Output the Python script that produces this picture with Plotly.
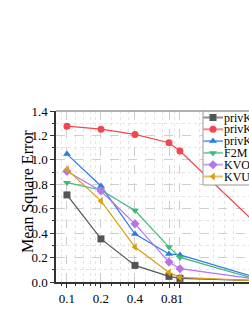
import plotly.graph_objects as go

eps = [0.1, 0.2, 0.4, 0.8, 1, 5]
names = ["privKV", "privKVM", "privKVM*", "F2M", "KVOH", "KVUE"]
priv_kv = [0.713, 0.353, 0.136, 0.046, 0.030, 0.010]
priv_kvm = [1.276, 1.251, 1.208, 1.140, 1.072, 0.455]
priv_kvm_star = [1.047, 0.786, 0.392, 0.230, 0.222, 0.030]
f2m = [0.813, 0.753, 0.585, 0.286, 0.201, 0.016]
kvoh = [0.906, 0.745, 0.476, 0.163, 0.109, 0.021]
kvue = [0.922, 0.664, 0.286, 0.078, 0.038, 0.010]
series = [priv_kv, priv_kvm, priv_kvm_star, f2m, kvoh, kvue]
colors = ["#555555", "#f2474f", "#2b7de0", "#3fb979", "#b673ea", "#d9a00c"]
symbols = ["square", "circle", "triangle-up", "triangle-down", "diamond", "triangle-left"]
xtick_vals = [0.1, 0.2, 0.4, 0.8, 1]
xtick_text = ["0.1", "0.2", "0.4", "0.8", "1"]
xminor_vals = [0.09, 0.12, 0.14, 0.16, 0.18, 0.25, 0.3, 0.35, 0.5, 0.6, 0.7, 0.9, 1.5, 2, 2.5, 3]

FONT = "Liberation Serif"
fig = go.Figure()
for name, vals, c, s in zip(names, series, colors, symbols):
    fig.add_trace(go.Scatter(x=eps, y=vals, name=name, mode="lines+markers",
                             line=dict(color=c, width=1.2),
                             marker=dict(symbol=s, size=7, color=c),
                             showlegend=False))

# manual legend on an overlay axis measured in screen pixels
L, R, T, B = 56, 249, 111, 282
fig.add_trace(go.Scatter(x=[203, 265, 265, 203, 203], y=[109, 109, 185, 185, 109],
                         xaxis="x2", yaxis="y2", mode="lines", fill="toself",
                         fillcolor="white", line=dict(color="#999999", width=1),
                         showlegend=False, hoverinfo="skip"))
for i, (name, c, s) in enumerate(zip(names, colors, symbols)):
    yy = 117.5 + 11.8 * i
    fig.add_trace(go.Scatter(x=[203.5, 223], y=[yy, yy], xaxis="x2", yaxis="y2",
                             mode="lines", line=dict(color=c, width=2), opacity=0.65,
                             showlegend=False, hoverinfo="skip"))
    fig.add_trace(go.Scatter(x=[213], y=[yy], xaxis="x2", yaxis="y2", mode="markers",
                             marker=dict(symbol=s, size=7, color=c),
                             showlegend=False, hoverinfo="skip"))
    fig.add_annotation(x=223, y=yy, xref="x2", yref="y2", text=name, showarrow=False,
                       xanchor="left", yanchor="middle", borderpad=0,
                       font=dict(family=FONT, size=12, color="black"))

fig.add_annotation(x=(28 - L) / (R - L), y=(B - 192) / (B - T), xref="paper", yref="paper",
                   text="Mean Square Error", textangle=-90, showarrow=False,
                   xanchor="center", yanchor="middle",
                   font=dict(family=FONT, size=16, color="black"))

fig.add_shape(type="line", xref="paper", yref="paper", x0=0, x1=1, y0=1, y1=1,
              line=dict(color="#999999", width=1.5))

W, H = 249, 323
fig.update_layout(
    width=W, height=H,
    margin=dict(l=L, r=0, t=T, b=H - B, autoexpand=False),
    paper_bgcolor="white", plot_bgcolor="white",
    font=dict(family=FONT, color="black"),
    showlegend=False,
    xaxis=dict(type="log", range=[-1.097, 0.611], tickvals=xtick_vals, ticktext=xtick_text,
               tickangle=0,
               tickfont=dict(family=FONT, size=13, color="black"),
               showline=True, linecolor="#333333", linewidth=1.5,
               ticks="outside", ticklen=4, tickcolor="#333333",
               showgrid=True, gridcolor="#cfcfcf", griddash="dash", gridwidth=1,
               minor=dict(tickvals=xminor_vals, ticks="outside", ticklen=2, tickcolor="#333333",
                          showgrid=True, gridcolor="#e4e4e4", griddash="dot"),
               zeroline=False),
    yaxis=dict(range=[0, 1.4], dtick=0.2, tickformat=".1f",
               tickfont=dict(family=FONT, size=13, color="black"),
               showline=True, linecolor="#333333", linewidth=1.5,
               ticks="outside", ticklen=4, tickcolor="#333333",
               showgrid=True, gridcolor="#cfcfcf", griddash="dash", gridwidth=1,
               minor=dict(dtick=0.1, ticks="outside", ticklen=2, tickcolor="#333333",
                          showgrid=True, gridcolor="#e4e4e4", griddash="dot"),
               zeroline=False),
    xaxis2=dict(overlaying="x", range=[L, R], visible=False, anchor="y2"),
    yaxis2=dict(overlaying="y", range=[B, T], visible=False, anchor="x2"),
)

fig.write_html("out.html", config={"displayModeBar": False},
               post_script="document.body.style.margin='0';document.body.style.overflow='hidden';")
